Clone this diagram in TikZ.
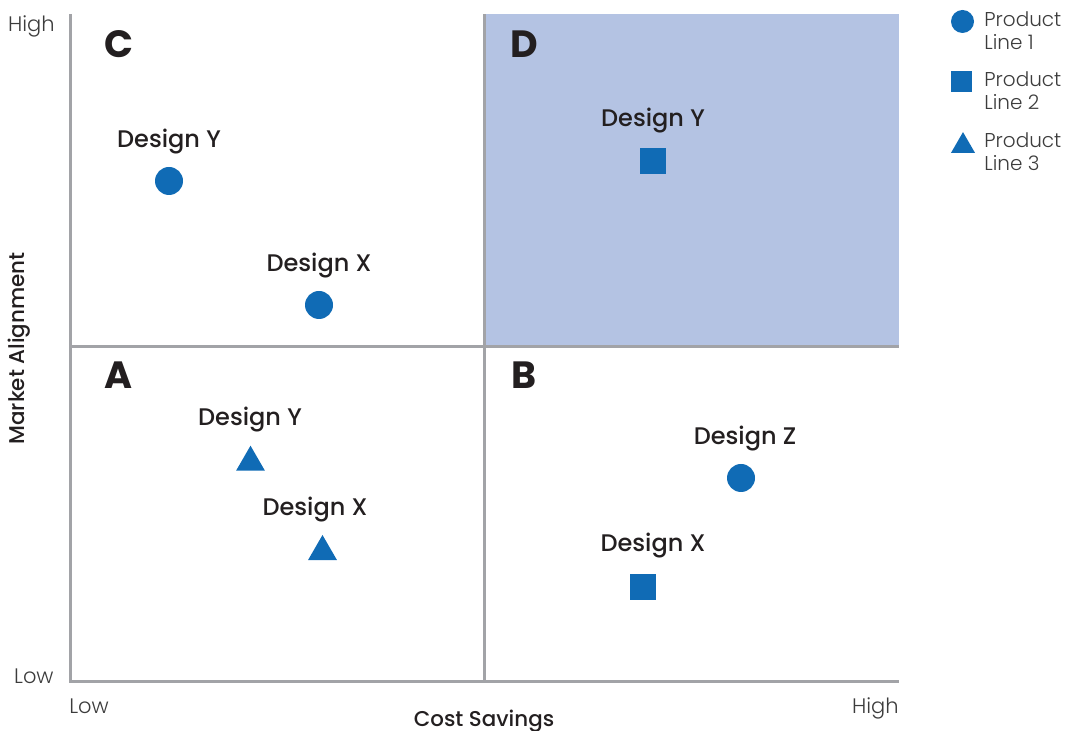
\documentclass[tikz,border=0pt]{standalone}
\usepackage{fontspec}
\setmainfont{Poppins}
\newfontfamily\lightfont{Poppins Light}
\newfontfamily\medfont{Poppins Medium}
\usetikzlibrary{shapes.geometric}

\definecolor{plblue}{HTML}{106BB5}
\definecolor{dshade}{HTML}{B4C3E3}
\definecolor{axisgrey}{HTML}{A2A3A7}
\definecolor{textdark}{HTML}{231F20}
\definecolor{textgrey}{HTML}{3C3C3C}

\begin{document}
\begin{tikzpicture}[x=0.5pt,y=-0.5pt,
    dot/.style={circle,fill=plblue,inner sep=0pt,minimum size=14pt},
    box/.style={rectangle,fill=plblue,inner sep=0pt,minimum size=13pt},
    tri/.style={regular polygon,regular polygon sides=3,fill=plblue,inner sep=0pt,minimum size=16.7pt},
    design/.style={anchor=base,text=textdark,font=\medfont\fontsize{12}{14}\selectfont},
    quad/.style={anchor=base,text=textdark,font=\bfseries\fontsize{19}{22}\selectfont},
    level/.style={inner sep=0pt,text=textgrey,font=\lightfont\fontsize{10.5}{13}\selectfont},
    legend/.style={anchor=north west,inner sep=0pt,align=left,text=textgrey,font=\lightfont\fontsize{10}{11.8}\selectfont},
    axistitle/.style={anchor=base,text=textdark,font=\medfont\fontsize{10.7}{13}\selectfont}]

    % Fix the size of the picture
    \useasboundingbox (0,0) rectangle (1066,731);

    % Define the corners of the grid
    \coordinate (O) at (70,682);
    \coordinate (T) at (70,14);
    \coordinate (R) at (899,682);
    \coordinate (MT) at (484,14);
    \coordinate (MB) at (484,682);
    \coordinate (ML) at (70,347);
    \coordinate (MR) at (899,347);

    % Shade quadrant D
    \fill[dshade] (484,14) rectangle (899,347);

    % Draw the axes and the dividing lines
    \draw[axisgrey,line width=1.5pt] (T) -- (O) -- (R);
    \draw[axisgrey,line width=1.5pt] (MT) -- (MB);
    \draw[axisgrey,line width=1.5pt] (ML) -- (MR);

    % Quadrant letters
    \node[quad] (qC) at (119,57.5) {C};
    \node[quad] (qD) at (524,57.5) {D};
    \node[quad] (qA) at (119,388.5) {A};
    \node[quad] (qB) at (524,388.5) {B};

    % Designs of product line 1 (circles)
    \node[dot] (cY) at (169,181) {};
    \node[dot] (cX) at (319,305) {};
    \node[dot] (bZ) at (741,478) {};

    % Designs of product line 2 (squares)
    \node[box] (dY) at (653,161) {};
    \node[box] (bX) at (643,587) {};

    % Designs of product line 3 (triangles)
    \node[tri] (aY) at (250.5,462.4) {};
    \node[tri] (aX) at (322.5,551.7) {};

    % Labels of the designs
    \node[design] (cYlab) at (169,148) {Design Y};
    \node[design] (cXlab) at (319,272) {Design X};
    \node[design] (dYlab) at (653,127) {Design Y};
    \node[design] (aYlab) at (250,426) {Design Y};
    \node[design] (aXlab) at (315,516) {Design X};
    \node[design] (bZlab) at (745,445) {Design Z};
    \node[design] (bXlab) at (653,552) {Design X};

    % Low and high ends of the axes
    \node[level,anchor=base east] (yhigh) at (55,32) {High};
    \node[level,anchor=base east] (ylow) at (54,683) {Low};
    \node[level,anchor=base west] (xlow) at (69,714) {Low};
    \node[level,anchor=base east] (xhigh) at (899,714) {High};

    % Axis titles
    \node[axistitle] (xtitle) at (484,726) {Cost Savings};
    \node[axistitle,rotate=90] (ytitle) at (25,348.5) {Market Alignment};

    % Legend
    \node[dot,minimum size=11.5pt] (key1) at (962.5,21.5) {};
    \node[box,minimum size=10.5pt] (key2) at (961.5,81.5) {};
    \node[tri,minimum size=13.9pt] (key3) at (963,146) {};
    \node[legend] (key1lab) at (984,11) {Product\\Line 1};
    \node[legend] (key2lab) at (984,71) {Product\\Line 2};
    \node[legend] (key3lab) at (984,132) {Product\\Line 3};

\end{tikzpicture}
\end{document}
